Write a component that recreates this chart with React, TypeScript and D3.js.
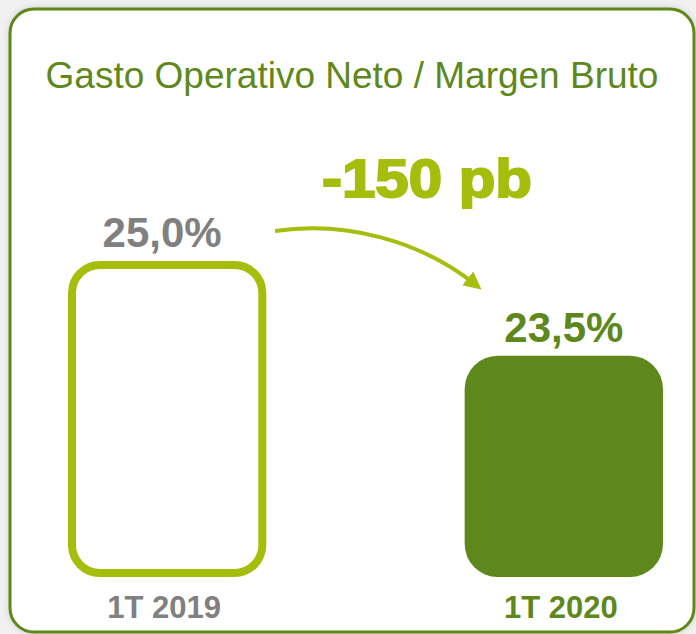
import React, { useEffect, useRef } from "react";
import * as d3 from "d3";

const categories = ["1T 2019", "1T 2020"];
const values = [25.0, 23.5];
const valueLabels = ["25,0%", "23,5%"];
const title = "Gasto Operativo Neto / Margen Bruto";
const deltaLabel = "-150 pb";

const W = 696;
const H = 634;
const light = "#a5bd0b";
const dark = "#5e881b";
const gray = "#808080";
const font = "'Liberation Sans', Arial, sans-serif";

export default function App() {
  const ref = useRef<SVGSVGElement>(null);

  useEffect(() => {
    const svg = d3.select(ref.current);
    svg.selectAll("*").remove();

    const defs = svg.append("defs");
    defs
      .append("filter")
      .attr("id", "shadow")
      .attr("x", "-5%")
      .attr("y", "-5%")
      .attr("width", "110%")
      .attr("height", "110%")
      .append("feDropShadow")
      .attr("dx", 0)
      .attr("dy", 0)
      .attr("stdDeviation", 3)
      .attr("flood-color", "#000")
      .attr("flood-opacity", 0.15);

    defs
      .append("marker")
      .attr("id", "arrow")
      .attr("viewBox", "0 0 10 10")
      .attr("refX", 6)
      .attr("refY", 5)
      .attr("markerWidth", 4.4)
      .attr("markerHeight", 4.4)
      .attr("orient", "auto")
      .append("path")
      .attr("d", "M0,0 L10,5 L0,10 z")
      .attr("fill", light);

    svg.append("rect").attr("width", W).attr("height", H).attr("fill", "#f1f1f1");

    svg
      .append("rect")
      .attr("x", 10)
      .attr("y", 9)
      .attr("width", 684)
      .attr("height", 623)
      .attr("rx", 24)
      .attr("fill", "#fff")
      .attr("stroke", dark)
      .attr("stroke-width", 3)
      .attr("filter", "url(#shadow)");

    svg
      .append("text")
      .attr("x", 352)
      .attr("y", 88)
      .attr("text-anchor", "middle")
      .attr("font-family", font)
      .attr("font-size", 37)
      .attr("fill", dark)
      .text(title);

    const x = d3.scaleBand().domain(categories).range([68, 663]).paddingInner(0.5).paddingOuter(0);
    const y = d3.scaleLinear().domain([20, 25]).range([577, 261]);
    const bw = x.bandwidth();

    // first bar: outline only
    const sw = 8;
    svg
      .append("rect")
      .attr("x", x(categories[0])! + sw / 2)
      .attr("y", y(values[0]) + sw / 2)
      .attr("width", bw - sw)
      .attr("height", y(20) - y(values[0]) - sw)
      .attr("rx", 28)
      .attr("fill", "#fff")
      .attr("stroke", light)
      .attr("stroke-width", sw);

    // second bar: filled
    svg
      .append("rect")
      .attr("x", x(categories[1])!)
      .attr("y", y(values[1]))
      .attr("width", bw)
      .attr("height", y(20) - y(values[1]))
      .attr("rx", 33)
      .attr("fill", dark);

    const colors = [gray, dark];
    const nudge = [-5, 0];

    svg
      .append("g")
      .selectAll("text")
      .data(categories)
      .join("text")
      .attr("x", (d, i) => x(d)! + bw / 2 + nudge[i])
      .attr("y", (d, i) => y(values[i]) - 14)
      .attr("text-anchor", "middle")
      .attr("font-family", font)
      .attr("font-weight", "bold")
      .attr("font-size", 42)
      .attr("fill", (d, i) => colors[i])
      .text((d, i) => valueLabels[i]);

    svg
      .append("g")
      .selectAll("text")
      .data(categories)
      .join("text")
      .attr("x", d => x(d)! + bw / 2 - 3)
      .attr("y", 618)
      .attr("text-anchor", "middle")
      .attr("font-family", font)
      .attr("font-weight", "bold")
      .attr("font-size", 31)
      .attr("fill", (d, i) => colors[i])
      .text(d => d);

    // change arrow between the bars
    svg
      .append("path")
      .attr("d", "M275,231 C345,221 420,240 476,285")
      .attr("fill", "none")
      .attr("stroke", light)
      .attr("stroke-width", 4)
      .attr("marker-end", "url(#arrow)");

    svg
      .append("text")
      .attr("x", 322)
      .attr("y", 197)
      .attr("font-family", font)
      .attr("font-weight", "bold")
      .attr("font-size", 54)
      .attr("fill", light)
      .attr("stroke", light)
      .attr("stroke-width", 2)
      .attr("textLength", 210)
      .attr("lengthAdjust", "spacingAndGlyphs")
      .text(deltaLabel);
  }, []);

  return (
    <svg
      ref={ref}
      width={W}
      height={H}
      style={{ position: "absolute", left: 0, top: 0, display: "block" }}
    />
  );
}
